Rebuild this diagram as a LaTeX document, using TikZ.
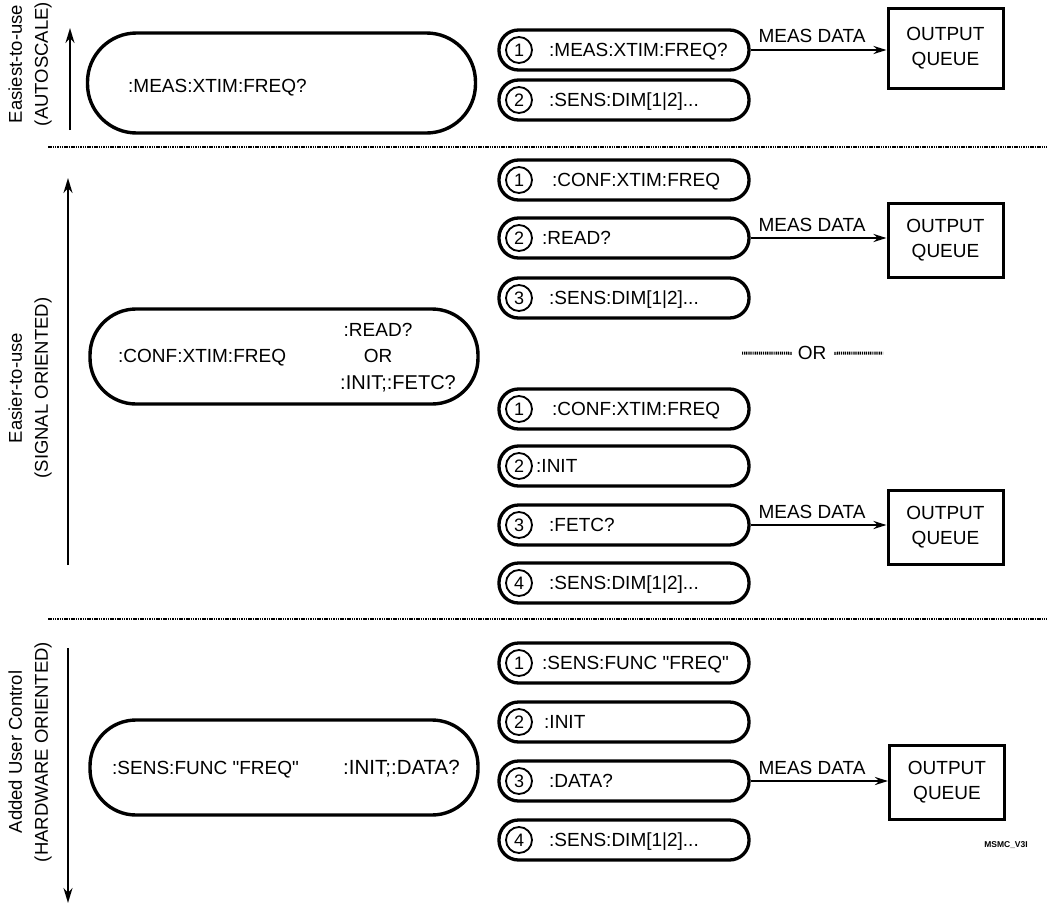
\documentclass[tikz,border=0pt]{standalone}
\usepackage{fontspec}
\setmainfont{Liberation Sans}
\newfontfamily\qfont{Liberation Sans}
\newcommand{\dq}{{\qfont"}}
\usetikzlibrary{arrows.meta}
\begin{document}
\begin{tikzpicture}[x=1pt,y=-1pt,
  pill/.style={draw, line width=3.3pt, rounded corners=19.5pt, minimum width=250pt, minimum height=40pt, inner sep=0pt},
  bigpill/.style={draw, line width=3.4pt, minimum width=388pt, inner sep=0pt},
  num/.style={draw, circle, line width=1.8pt, minimum size=26pt, inner sep=0pt, font=\fontsize{18}{18}\selectfont},
  cmd/.style={anchor=base west, yshift=-6.8pt, inner sep=0pt, font=\fontsize{19}{19}\selectfont},
  ctr/.style={anchor=base, yshift=-6.8pt, inner sep=0pt, font=\fontsize{19}{19}\selectfont},
  queue/.style={draw, line width=3pt, minimum width=115pt, minimum height=74pt, align=center, inner sep=0pt, font=\fontsize{19}{25}\selectfont},
  flow/.style={line width=2.2pt, -{Stealth[length=13pt,width=8pt]}},
  meas/.style={anchor=south, inner sep=0pt, font=\fontsize{19}{19}\selectfont},
  side/.style={rotate=90, align=center, inner sep=0pt, font=\fontsize{18.5}{26}\selectfont},
  axis/.style={line width=2.2pt, -{Stealth[length=15pt,width=9pt]}},
  sep/.style={line width=1.6pt, dash pattern=on 1.5pt off 0.8pt},
  ordots/.style={line width=3pt, dash pattern=on 1.2pt off 0.9pt},
]
\fill[white] (0,0) rectangle (1047,905);
\useasboundingbox (0,0) rectangle (1047,905);

% ---------- section 1 ----------
\node[side] (lab1) at (30,64) {Easiest-to-use\\(AUTOSCALE)};
\coordinate (a1s) at (70,130); \coordinate (a1e) at (70,28);
\draw[axis] (a1s) -- (a1e);
\node[bigpill, minimum height=100pt, rounded corners=49pt] (B1) at (281.5,83) {};
\node[cmd] (B1t) at (128,86) {:MEAS:XTIM:FREQ?};

\node[pill] (s11) at (624,50) {};
\node[num] (n11) at (519,50) {1};
\node[cmd] (c11) at (549,50) {:MEAS:XTIM:FREQ?};
\node[pill] (s12) at (624,100) {};
\node[num] (n12) at (519,100) {2};
\node[cmd] (c12) at (549,100) {:SENS:DIM[1|2]...};

\node[queue, minimum height=80pt] (q1) at (945.5,48) {OUTPUT\\QUEUE};
\draw[flow] (s11.east) -- (s11.east -| q1.west);
\node[meas] (m1) at (812,43) {MEAS DATA};

\coordinate (sp1a) at (48,147); \coordinate (sp1b) at (1047,147);
\draw[sep] (sp1a) -- (sp1b);

% ---------- section 2 ----------
\node[side] (lab2) at (30,388) {Easier-to-use\\(SIGNAL ORIENTED)};
\coordinate (a2s) at (68,565); \coordinate (a2e) at (68,178);
\draw[axis] (a2s) -- (a2e);
\node[bigpill, minimum height=95pt, rounded corners=46pt] (B2) at (284,356.5) {};
\node[cmd] (B2t) at (118,356) {:CONF:XTIM:FREQ};
\node[ctr] (B2r) at (378,330) {:READ?};
\node[ctr] (B2o) at (378,356) {OR};
\node[ctr, font=\fontsize{20}{20}\selectfont] (B2i) at (398,383) {:INIT;:FETC?};

\node[pill] (s21) at (624,180) {};
\node[num] (n21) at (519,180) {1};
\node[cmd] (c21) at (552,180) {:CONF:XTIM:FREQ};
\node[pill] (s22) at (624,238) {};
\node[num] (n22) at (519,238) {2};
\node[cmd] (c22) at (542,238) {:READ?};
\node[pill] (s23) at (624,298) {};
\node[num] (n23) at (519,298) {3};
\node[cmd] (c23) at (549,298) {:SENS:DIM[1|2]...};

\node[queue] (q2) at (945.5,240) {OUTPUT\\QUEUE};
\draw[flow] (s22.east) -- (s22.east -| q2.west);
\node[meas] (m2) at (812,232) {MEAS DATA};

\node[ctr] (or) at (812,353) {OR};
\coordinate (orl) at (742,353); \coordinate (orr) at (883,353);
\draw[ordots] (orl) -- ([xshift=-6pt]or.west);
\draw[ordots] ([xshift=8pt]or.east) -- (orr);

\node[pill] (s24) at (624,409) {};
\node[num] (n24) at (519,409) {1};
\node[cmd] (c24) at (552,409) {:CONF:XTIM:FREQ};
\node[pill] (s25) at (624,466) {};
\node[num] (n25) at (519,466) {2};
\node[cmd] (c25) at (536,466) {:INIT};
\node[pill] (s26) at (624,525) {};
\node[num] (n26) at (519,525) {3};
\node[cmd] (c26) at (549,525) {:FETC?};
\node[pill] (s27) at (624,583) {};
\node[num] (n27) at (519,583) {4};
\node[cmd] (c27) at (549,583) {:SENS:DIM[1|2]...};

\node[queue] (q3) at (945.5,527) {OUTPUT\\QUEUE};
\draw[flow] (s26.east) -- (s26.east -| q3.west);
\node[meas] (m3) at (812,519) {MEAS DATA};

\coordinate (sp2a) at (48,619); \coordinate (sp2b) at (1047,619);
\draw[sep] (sp2a) -- (sp2b);

% ---------- section 3 ----------
\node[side] (lab3) at (30,752) {Added User Control\\(HARDWARE ORIENTED)};
\coordinate (a3s) at (68,648); \coordinate (a3e) at (68,903);
\draw[axis] (a3s) -- (a3e);
\node[bigpill, minimum height=95pt, rounded corners=46pt] (B3) at (284,767.5) {};
\node[cmd] (B3t) at (112,768) {:SENS:FUNC \dq FREQ\dq};
\node[cmd, font=\fontsize{20.5}{20.5}\selectfont] (B3r) at (343,768) {:INIT;:DATA?};

\node[pill] (s31) at (624,663) {};
\node[num] (n31) at (519,663) {1};
\node[cmd] (c31) at (542,663) {:SENS:FUNC \dq FREQ\dq};
\node[pill] (s32) at (624,722) {};
\node[num] (n32) at (519,722) {2};
\node[cmd] (c32) at (544,722) {:INIT};
\node[pill] (s33) at (624,781) {};
\node[num] (n33) at (519,781) {3};
\node[cmd] (c33) at (549,781) {:DATA?};
\node[pill] (s34) at (624,840) {};
\node[num] (n34) at (519,840) {4};
\node[cmd] (c34) at (549,840) {:SENS:DIM[1|2]...};

\node[queue] (q4) at (947,782) {OUTPUT\\QUEUE};
\draw[flow] (s33.east) -- (s33.east -| q4.west);
\node[meas] (m4) at (812,775) {MEAS DATA};

\node[inner sep=0pt, font=\fontsize{8.5}{8.5}\selectfont\bfseries] (id) at (1006,845) {MSMC\_V3I};
\end{tikzpicture}
\end{document}
